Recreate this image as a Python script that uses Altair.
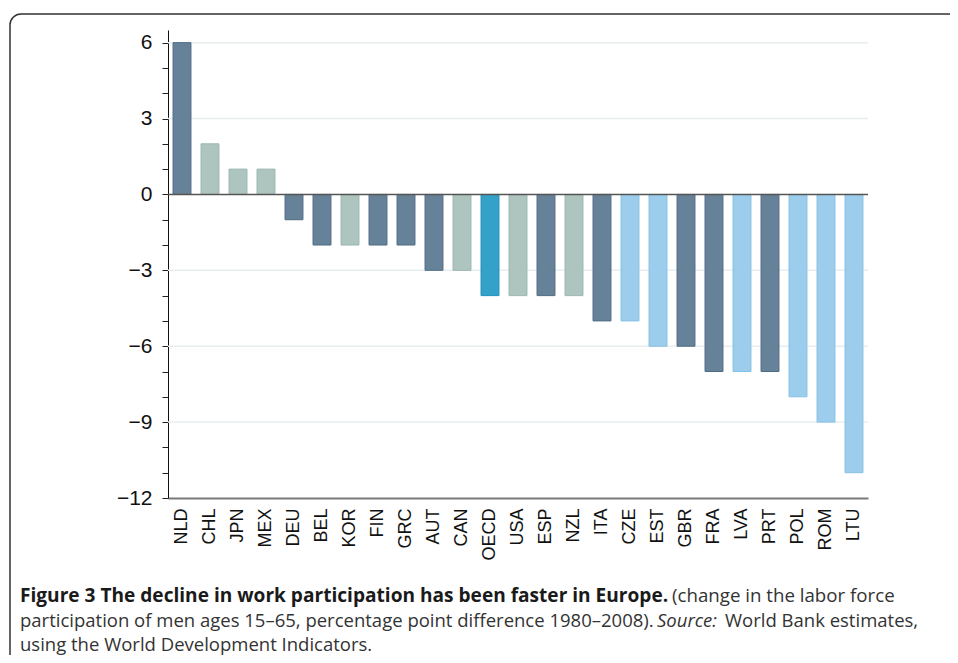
import altair as alt
import pandas as pd

countries = ["NLD", "CHL", "JPN", "MEX", "DEU", "BEL", "KOR", "FIN", "GRC", "AUT", "CAN", "OECD",
             "USA", "ESP", "NZL", "ITA", "CZE", "EST", "GBR", "FRA", "LVA", "PRT", "POL", "ROM", "LTU"]
values = [6, 2, 1, 1, -1, -2, -2, -2, -2, -3, -3, -4, -4, -4, -4, -5, -5, -6, -6, -7, -7, -7, -8, -9, -11]
groups = ["A", "B", "B", "B", "A", "A", "B", "A", "A", "A", "B", "O",
          "B", "A", "B", "A", "C", "C", "A", "A", "C", "A", "C", "C", "C"]
group_names = ["A", "B", "O", "C"]
fills = ["#658298", "#adc4bf", "#34a1c9", "#9dcdec"]
strokes = ["#4f6c84", "#9ab6b0", "#1f8fbd", "#86c0e6"]
y_ticks = list(range(-12, 7))
grid_values = [6, 3, -3, -6, -9]

df = pd.DataFrame({"country": countries, "value": values, "group": groups})

W, H = 700, 468

x_enc = alt.X("country:N", sort=countries,
              scale=alt.Scale(paddingInner=0.36, paddingOuter=0.18),
              axis=alt.Axis(title=None, labelAngle=270, labelFontSize=18, labelFont="Liberation Sans",
                            labelColor="#111", labelPadding=10, ticks=False,
                            domainColor="#7a7a7a", domainWidth=2, grid=False))
y_scale = alt.Scale(domain=[-12, 6.5], nice=False, zero=False)
y_axis = alt.Axis(title=None, values=y_ticks, grid=False,
                  labelExpr="datum.value % 3 == 0 ? datum.label : ''",
                  labelFontSize=21, labelFont="Liberation Sans", labelColor="#111",
                  tickSize=6, tickColor="#222", domainColor="#111", domainWidth=1,
                  labelPadding=10)


def y_enc():
    return alt.Y("value:Q", scale=y_scale, axis=y_axis)


bars = alt.Chart(df).mark_bar(strokeWidth=1).encode(
    x=x_enc,
    y=y_enc(),
    y2=alt.datum(0),
    fill=alt.Color("group:N", scale=alt.Scale(domain=group_names, range=fills), legend=None),
    stroke=alt.Stroke("group:N", scale=alt.Scale(domain=group_names, range=strokes), legend=None),
)

grid = alt.Chart(pd.DataFrame({"value": grid_values})).mark_rule(color="#e7eef0", strokeWidth=1.5).encode(
    y=y_enc()
)

zero = alt.Chart(pd.DataFrame({"value": [0]})).mark_rule(color="#555555", strokeWidth=1.5).encode(
    y=y_enc()
)

one = pd.DataFrame({"a": [1]})
box = alt.Chart(one).mark_rect(fillOpacity=0, stroke="#333333", strokeWidth=1.5, cornerRadius=11).encode(
    x=alt.value(-158), x2=alt.value(840), y=alt.value(-16), y2=alt.value(680)
)

cap_font = "Open Sans"


def cap(text, x, y, size=18.5, weight="normal", style="normal", color="#333333"):
    return alt.Chart(pd.DataFrame({"t": [text]})).mark_text(
        align="left", baseline="alphabetic", font=cap_font, fontSize=size,
        fontWeight=weight, fontStyle=style, color=color
    ).encode(text="t:N", x=alt.value(x), y=alt.value(y))


captions = [
    cap("Figure 3 The decline in work participation has been faster in Europe.", -148, 572, size=19.1,
        weight="bold", color="#1a1a1a"),
    cap("(change in the labor force", 504, 572, size=18.7),
    cap("participation of men ages 15\u201365, percentage point difference 1980\u20132008).", -148, 597),
    cap("Source:", 489, 597, style="italic"),
    cap("World Bank estimates,", 557, 597),
    cap("using the World Development Indicators.", -148, 621),
]

chart = alt.layer(grid, bars, zero, box, *captions).properties(
    width=W, height=H,
    autosize=alt.AutoSizeParams(type="none"),
    padding={"left": 160, "top": 22, "right": 82, "bottom": 157},
).configure(background="white").configure_view(strokeWidth=0)

chart.save("out.html", embed_options={"renderer": "svg", "actions": False})
